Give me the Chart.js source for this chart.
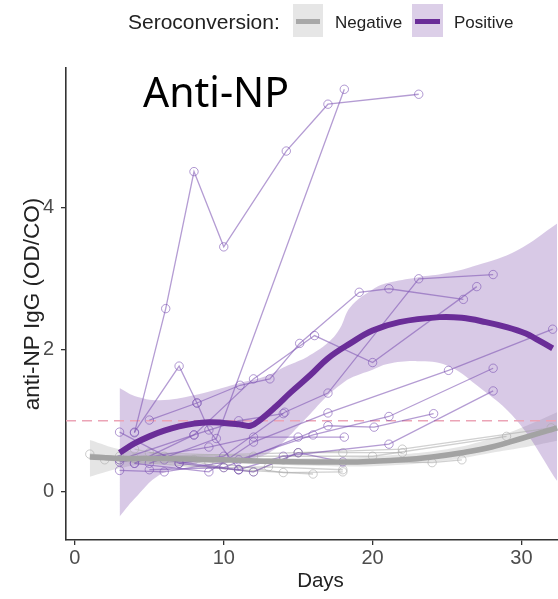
<!DOCTYPE html>
<html><head><meta charset="utf-8">
<script src="https://cdn.jsdelivr.net/npm/chart.js@4.4.1/dist/chart.umd.min.js"></script>
<style>
html,body{margin:0;padding:0;background:#fff;overflow:hidden;}
#wrap{position:relative;width:558px;height:599px;overflow:hidden;}
#c{position:absolute;left:0;top:0;}
.lg{position:absolute;font-family:"Liberation Sans",Arial,sans-serif;color:#222;white-space:nowrap;}
.key{position:absolute;top:4px;height:33px;}
.key i{position:absolute;left:3px;right:3px;top:15px;height:5px;}
#ttl{position:absolute;left:143px;top:71px;font-family:"Noto Sans",sans-serif;font-size:41px;line-height:40px;color:#000;}
</style></head>
<body><div id="wrap">
<canvas id="c" width="575" height="599"></canvas>
<div class="lg" style="left:128px;top:10.8px;font-size:21px;line-height:21px;">Seroconversion:</div>
<div class="key" style="left:293px;width:30px;background:#e6e6e6;"><i style="background:#a8a8a8"></i></div>
<div class="lg" style="left:335px;top:13.8px;font-size:17px;line-height:17px;">Negative</div>
<div class="key" style="left:412px;width:31px;background:#dccfe8;"><i style="background:#6a2d98"></i></div>
<div class="lg" style="left:454px;top:13.8px;font-size:17px;line-height:17px;">Positive</div>
<div id="ttl">Anti-NP</div>
</div>
<script>
// ---- data ----
const xTickValues = [0, 10, 20, 30];
const yTickValues = [0, 2, 4];
const threshold = 1;

// positive (seroconverted) subjects: [day, OD/CO]
const pos01 = [[4,0.83],[6.1,2.58],[8,4.51],[10,3.45],[14.2,4.8],[17,5.46],[23.1,5.6]];
const pos02 = [[5,0.4],[9.5,0.75],[18.1,5.67]];
const pos03 = [[4,0.84],[7,1.77],[8.2,1.25],[9,0.87],[11,0.31]];
const pos04 = [[5,1.01],[8.2,1.25],[11.1,1.5],[13.1,1.59],[15.1,2.09],[19.1,2.81],[21.1,2.86],[26.1,2.71]];
const pos05 = [[3,0.45],[8,0.8],[12,1.59],[16.1,2.2],[20,1.82],[27,2.89]];
const pos06 = [[3,0.84],[7,0.4],[10,0.5],[14.1,1.12],[17,1.39],[23.1,3.0],[28.1,3.06]];
const pos07 = [[4,0.4],[9,0.28],[12,0.7],[17,1.11],[25.1,1.71],[32.1,2.29]];
const pos08 = [[3,0.3],[6,0.28],[11,0.45],[16,0.8],[21.1,1.06],[28.1,1.74]];
const pos09 = [[5,0.31],[10,0.34],[17,0.93],[20.1,0.91],[24.1,1.1]];
const pos10 = [[6,0.45],[11,0.31],[14,0.5],[21.1,0.67],[28.1,1.42]];
const pos11 = [[3,0.42],[9,0.63],[12,0.77],[15,0.77],[18.1,0.77]];
const pos12 = [[4,0.4],[8,0.8],[11,1.0],[14,1.1]];
const pos13 = [[7,0.4],[12,0.28],[15,0.55],[18,0.42]];
const positiveSubjects = [pos01,pos02,pos03,pos04,pos05,pos06,pos07,pos08,pos09,pos10,pos11,pos12,pos13];

// negative subjects
const neg01 = [[1,0.53],[4,0.47],[9,0.42],[14,0.27],[18,0.28]];
const neg02 = [[3,0.45],[7,0.4],[12,0.28],[15,0.55],[18,0.55],[22,0.55]];
const neg03 = [[4,0.6],[10,0.34],[13,0.35],[18,0.31]];
const neg04 = [[3,0.5],[8,0.45],[14,0.45],[24,0.41],[26,0.45]];
const neg05 = [[5,0.55],[12,0.5],[20,0.5],[29,0.78]];
const neg06 = [[6,0.5],[15,0.55],[22,0.6],[32,0.9]];
const neg07 = [[2,0.45],[11,0.31],[16,0.25]];
const negativeSubjects = [neg01,neg02,neg03,neg04,neg05,neg06,neg07];

// smoothed fits
const posFitDays = [3,4,5,6,7,8,9,10,11,11.8,12.5,13.5,14.5,15.8,17,18.5,20,21.8,24.5,26,27.6,29,30.3,31,32.1];
const posFitVals = [0.55,0.68,0.78,0.86,0.92,0.96,0.98,0.97,0.95,0.93,1.02,1.2,1.4,1.64,1.88,2.09,2.27,2.39,2.46,2.45,2.39,2.32,2.23,2.15,2.02];
const posBandDays  = [3,4,5.7,8,10.2,11,12.4,13.3,14,15.1,15.6,17,17.8,18.5,20,21,23,25,27,29.7,32.4];
const posBandUpper = [1.46,1.35,1.29,1.36,1.48,1.53,1.6,1.67,1.75,1.85,1.9,2.1,2.3,2.6,2.85,2.94,3.02,3.08,3.19,3.4,3.78];
const posBandLower = [-0.35,-0.1,0.24,0.4,0.45,0.47,0.49,0.58,0.7,0.94,1.05,1.36,1.5,1.6,1.72,1.8,1.84,1.78,1.5,1.0,0.15];

const negFitDays = [1,3,5,8,10,13,16,19,22,24,26,28,30,32.4];
const negFitVals = [0.49,0.47,0.47,0.46,0.45,0.43,0.42,0.42,0.45,0.49,0.55,0.63,0.75,0.9];
const negBandDays  = [1,3,5,10,15,20,25,28,30,32.4];
const negBandUpper = [0.73,0.6,0.55,0.5,0.47,0.5,0.6,0.75,0.9,1.12];
const negBandLower = [0.21,0.33,0.39,0.4,0.37,0.36,0.44,0.55,0.62,0.72];

// ---- build ----
const toXY = pts => pts.map(p => ({x:p[0], y:p[1]}));
const zipXY = (xs, ys) => xs.map((x,i) => ({x, y:ys[i]}));
const xMin = -0.6, xMax = 33.6;

const datasets = [];
datasets.push({label:'posFit', data: zipXY(posFitDays,posFitVals), borderColor:'#6a2d98', borderWidth:6,
  pointRadius:0, tension:0.4, fill:false, order:0, borderCapStyle:'butt'});
datasets.push({label:'negFit', data: zipXY(negFitDays,negFitVals), borderColor:'#a3a3a3', borderWidth:5.5,
  pointRadius:0, tension:0.4, fill:false, order:1});
datasets.push({label:'threshold', data:[{x:xMin,y:threshold},{x:xMax,y:threshold}], borderColor:'#eba4b6',
  borderWidth:1.4, borderDash:[10,6], pointRadius:0, fill:false, order:3});
positiveSubjects.forEach((s,i) => datasets.push({label:'pos'+(i+1), data: toXY(s),
  borderColor:'rgba(125,85,180,0.58)', borderWidth:1.3, pointRadius:4.2, pointBorderWidth:1,
  pointBorderColor:'rgba(125,85,180,0.6)', pointBackgroundColor:'rgba(0,0,0,0)', tension:0, fill:false, order:2}));
negativeSubjects.forEach((s,i) => datasets.push({label:'neg'+(i+1), data: toXY(s),
  borderColor:'rgba(170,170,170,0.55)', borderWidth:1.3, pointRadius:4.2, pointBorderWidth:1,
  pointBorderColor:'rgba(170,170,170,0.6)', pointBackgroundColor:'rgba(0,0,0,0)', tension:0, fill:false, order:4}));
const nBase = datasets.length;
datasets.push({label:'posUpper', data: zipXY(posBandDays,posBandUpper), borderWidth:0, pointRadius:0, tension:0.4,
  fill:{target: nBase+1}, backgroundColor:'rgba(125,75,172,0.3)', borderColor:'rgba(0,0,0,0)', order:5});
datasets.push({label:'posLower', data: zipXY(posBandDays,posBandLower), borderWidth:0, pointRadius:0, tension:0.4,
  fill:false, borderColor:'rgba(0,0,0,0)', order:5});
datasets.push({label:'negUpper', data: zipXY(negBandDays,negBandUpper), borderWidth:0, pointRadius:0, tension:0.4,
  fill:{target: nBase+3}, backgroundColor:'rgba(150,150,150,0.25)', borderColor:'rgba(0,0,0,0)', order:6});
datasets.push({label:'negLower', data: zipXY(negBandDays,negBandLower), borderWidth:0, pointRadius:0, tension:0.4,
  fill:false, borderColor:'rgba(0,0,0,0)', order:6});

const axisColor = '#333';
new Chart(document.getElementById('c'), {
  type:'line',
  data:{datasets},
  options:{
    responsive:false, animation:false, devicePixelRatio:1,
    layout:{autoPadding:false, padding:{top:68,left:0,right:0,bottom:0}},
    plugins:{legend:{display:false}, tooltip:{enabled:false}},
    scales:{
      x:{type:'linear', min:xMin, max:xMax,
        afterBuildTicks: s => { s.ticks = xTickValues.map(v => ({value:v})); },
        afterFit: s => { s.height = 59; },
        grid:{drawOnChartArea:false, drawTicks:true, tickLength:5, color:axisColor, lineWidth:1.3},
        border:{display:true, color:axisColor, width:1.6},
        ticks:{color:'#4d4d4d', font:{family:'Liberation Sans', size:20}, padding:1, maxRotation:0, autoSkip:false, includeBounds:false},
        title:{display:true, text:'Days', color:'#222', font:{family:'Liberation Sans', size:20.5}, padding:{top:0,bottom:5}}
      },
      y:{type:'linear', min:-0.68, max:5.97,
        afterBuildTicks: s => { s.ticks = yTickValues.map(v => ({value:v})); },
        afterFit: s => { s.width = 66; },
        grid:{drawOnChartArea:false, drawTicks:true, tickLength:5, color:axisColor, lineWidth:1.3},
        border:{display:true, color:axisColor, width:1.6},
        ticks:{color:'#4d4d4d', font:{family:'Liberation Sans', size:20}, padding:7, includeBounds:false},
        title:{display:true, text:'anti-NP IgG (OD/CO)', color:'#222', font:{family:'Liberation Sans', size:22.5}, padding:{top:19.5,bottom:0}}
      }
    }
  }
});
</script>
</body></html>
